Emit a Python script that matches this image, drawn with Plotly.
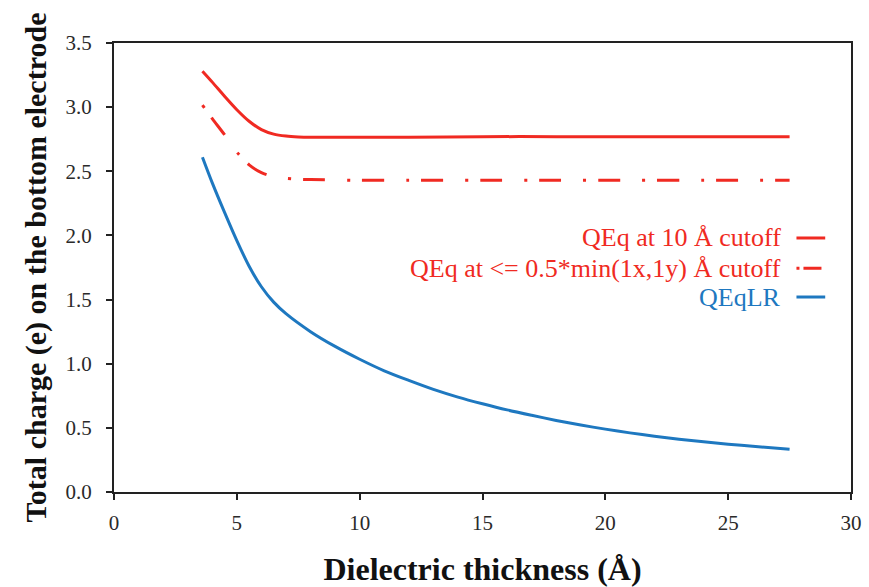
import plotly.graph_objects as go

# Data
x_qeq10 = [3.6, 4.0, 4.5, 5.0, 5.5, 6.0, 6.5, 7.0, 7.5, 8.0, 10.0, 12.0, 15.0, 18.0, 21.0, 24.0, 27.5]
y_qeq10 = [3.28, 3.195, 3.085, 2.98, 2.89, 2.825, 2.79, 2.775, 2.768, 2.765, 2.765, 2.765, 2.77, 2.77, 2.77, 2.77, 2.77]

x_qeqmin = [3.6, 4.0, 4.5, 5.0, 5.5, 6.0, 6.5, 7.0, 7.5, 8.0, 10.0, 12.0, 15.0, 18.0, 21.0, 24.0, 27.5]
y_qeqmin = [3.015, 2.91, 2.785, 2.65, 2.55, 2.49, 2.458, 2.445, 2.438, 2.435, 2.43, 2.43, 2.43, 2.43, 2.43, 2.43, 2.43]

x_qeqlr = [3.6, 4.0, 4.5, 5.0, 5.5, 6.0, 6.5, 7.0, 8.0, 9.0, 10.0, 11.0, 12.0, 13.0, 14.0, 15.0,
           16.0, 17.0, 18.0, 19.0, 20.0, 21.0, 22.0, 23.0, 24.0, 25.0, 26.0, 27.5]
y_qeqlr = [2.61, 2.41, 2.18, 1.96, 1.76, 1.60, 1.48, 1.39, 1.25, 1.135, 1.035, 0.945, 0.87, 0.80, 0.74, 0.688,
           0.64, 0.598, 0.558, 0.522, 0.49, 0.461, 0.435, 0.412, 0.392, 0.373, 0.356, 0.333]

names = ["QEq at 10 Å cutoff", "QEq at <= 0.5*min(1x,1y) Å cutoff", "QEqLR"]
RED = "#F02A22"
BLUE = "#1E78C0"
DASH = "3px,12px,22px,22px"

fig = go.Figure()
fig.add_trace(go.Scatter(x=x_qeq10, y=y_qeq10, mode="lines", name=names[0],
                         line=dict(color=RED, width=3, shape="spline", smoothing=0.8)))
fig.add_trace(go.Scatter(x=x_qeqmin, y=y_qeqmin, mode="lines", name=names[1],
                         line=dict(color=RED, width=3, dash=DASH, shape="spline", smoothing=0.8)))
fig.add_trace(go.Scatter(x=x_qeqlr, y=y_qeqlr, mode="lines", name=names[2],
                         line=dict(color=BLUE, width=3, shape="spline", smoothing=0.8)))

# Custom legend: right-aligned text with line sample at right
leg_y = [1.98, 1.745, 1.52]
leg_colors = [RED, RED, BLUE]
leg_dash = ["solid", "3px,4px,18px,40px", "solid"]
for name, ly, c, d in zip(names, leg_y, leg_colors, leg_dash):
    fig.add_annotation(x=27.25, y=ly, xref="x", yref="y", text=name, showarrow=False,
                       xanchor="right", yanchor="middle",
                       font=dict(family="Liberation Serif", size=26, color=c))
    fig.add_shape(type="line", xref="x", yref="y", x0=27.78, x1=28.95, y0=ly, y1=ly,
                  line=dict(color=c, width=3, dash=d))

fig.update_layout(
    width=869, height=587,
    margin=dict(l=114, r=18, t=43, b=95, autoexpand=False),
    paper_bgcolor="white", plot_bgcolor="white",
    showlegend=False,
    font=dict(family="Liberation Serif", size=21, color="#222"),
)
fig.update_xaxes(range=[0, 30], tickvals=[0, 5, 10, 15, 20, 25, 30], automargin=False,
                 showgrid=False, zeroline=False,
                 showline=True, linecolor="#222", linewidth=2, mirror=True,
                 ticks="outside", ticklen=6, tickcolor="#222", tickwidth=1.5,
                 ticklabelstandoff=5,
                 tickfont=dict(family="Liberation Serif", size=21, color="#2a2a2a"),
                 title=dict(text="<b>Dielectric thickness (Å)</b>", standoff=28,
                            font=dict(family="Liberation Serif", size=32, color="#111")))
fig.update_yaxes(range=[0, 3.5], tickvals=[0, 0.5, 1.0, 1.5, 2.0, 2.5, 3.0, 3.5], automargin=False,
                 ticktext=["0.0", "0.5", "1.0", "1.5", "2.0", "2.5", "3.0", "3.5"],
                 showgrid=False, zeroline=False,
                 showline=True, linecolor="#222", linewidth=2, mirror=True,
                 ticks="outside", ticklen=6, tickcolor="#222", tickwidth=1.5,
                 ticklabelstandoff=10,
                 tickfont=dict(family="Liberation Serif", size=21, color="#2a2a2a"),
                 title=dict(text="<b>Total charge (e) on the bottom electrode</b>", standoff=10,
                            font=dict(family="Liberation Serif", size=30, color="#111")))

fig.write_html("out.html")
